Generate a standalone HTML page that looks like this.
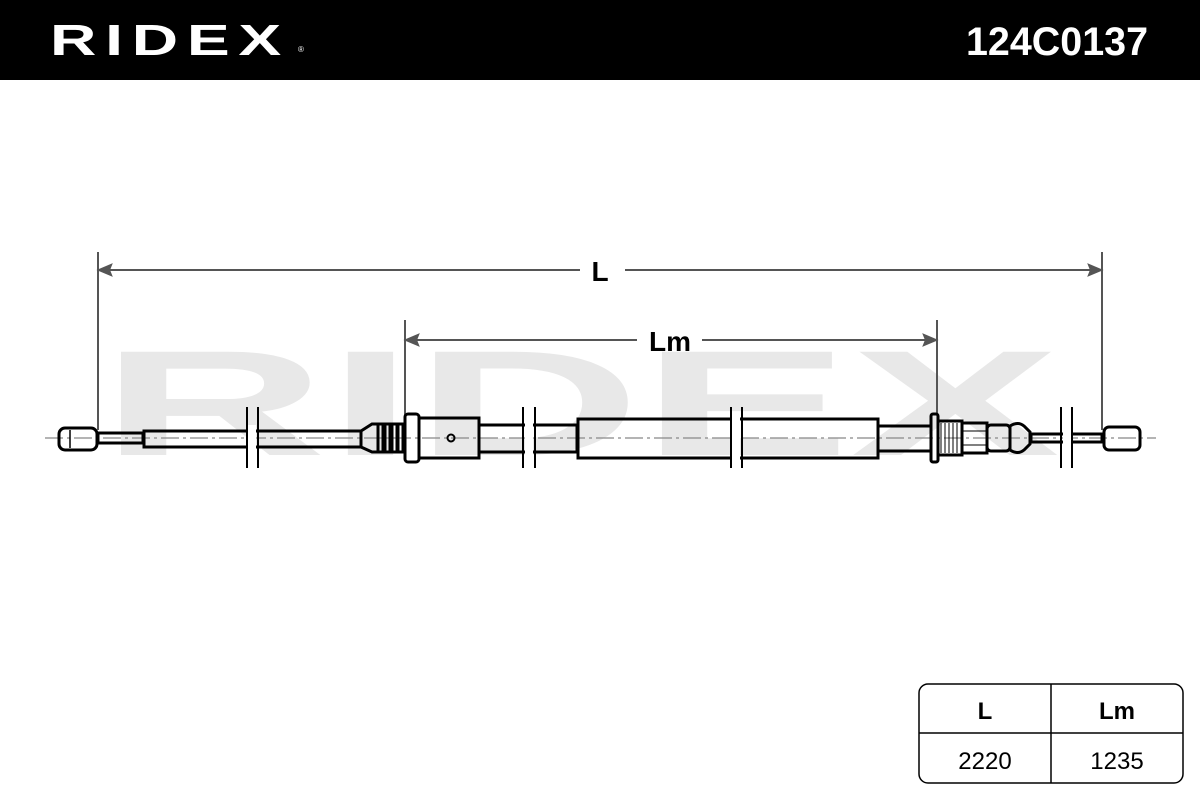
<!DOCTYPE html>
<html><head><meta charset="utf-8"><style>
html,body{margin:0;padding:0;background:#fff;width:1200px;height:800px;overflow:hidden}
svg{display:block}
text{font-family:"Liberation Sans",sans-serif}
</style></head><body>
<svg width="1200" height="800" viewBox="0 0 1200 800" xmlns="http://www.w3.org/2000/svg">
<rect x="0" y="0" width="1200" height="80" fill="#000"/>
<text x="50" y="55" font-size="44" font-weight="bold" fill="#fff" textLength="240" lengthAdjust="spacingAndGlyphs" letter-spacing="6">RIDEX</text>
<text x="298" y="52" font-size="8" fill="#fff">®</text>
<text x="1148" y="55" font-size="40" font-weight="bold" fill="#fff" text-anchor="end" textLength="182" lengthAdjust="spacingAndGlyphs">124C0137</text>

<!-- watermark -->
<text x="100" y="455" font-size="150" font-weight="bold" fill="#e8e8e8" textLength="960" lengthAdjust="spacingAndGlyphs">RIDEX</text>

<!-- center line -->
<line x1="45" y1="438" x2="1156" y2="438" stroke="#888" stroke-width="1.2" stroke-dasharray="18,4,3,4"/>

<!-- dimension lines -->
<g stroke="#555" stroke-width="2" fill="#555">
<line x1="98" y1="252" x2="98" y2="430"/>
<line x1="1102" y1="252" x2="1102" y2="430"/>
<line x1="98" y1="270" x2="580" y2="270"/>
<line x1="625" y1="270" x2="1102" y2="270"/>
<polygon points="99,270 111,265 109,270 111,275" />
<polygon points="1101,270 1089,265 1091,270 1089,275" />
<line x1="405" y1="320" x2="405" y2="415"/>
<line x1="937" y1="320" x2="937" y2="415"/>
<line x1="405" y1="340" x2="637" y2="340"/>
<line x1="702" y1="340" x2="937" y2="340"/>
<polygon points="406,340 418,335 416,340 418,345" />
<polygon points="936,340 924,335 926,340 924,345" />
</g>
<text x="600" y="281" font-size="28" font-weight="bold" text-anchor="middle">L</text>
<text x="670" y="351" font-size="28" font-weight="bold" text-anchor="middle">Lm</text>

<!-- cable -->
<g stroke="#000" stroke-width="3" fill="none">
<rect x="59" y="428" width="38" height="22" rx="6"/>
<line x1="70" y1="430" x2="70" y2="448" stroke-width="1.5"/>
<rect x="98" y="433" width="45" height="10"/>
<rect x="144" y="431" width="217" height="16"/>
<polygon points="361,431 372,424 378,424 378,452 372,452 361,447"/>
<rect x="378" y="424" width="5" height="28"/><rect x="385" y="424" width="5" height="28"/><rect x="392" y="424" width="5" height="28"/><rect x="398" y="424" width="5" height="28"/>
<rect x="405" y="414" width="14" height="48" rx="3"/>
<rect x="419" y="418" width="60" height="40"/>
<circle cx="451" cy="438" r="3.5" stroke-width="2"/>
<rect x="479" y="425" width="98" height="27"/>
<rect x="578" y="419" width="300" height="39"/>
<rect x="878" y="426" width="53" height="25"/>
<rect x="931" y="414" width="7" height="48" rx="2"/>
<rect x="938" y="421" width="24" height="34"/>
<rect x="962" y="423" width="25" height="30"/>
<rect x="987" y="425" width="23" height="26" rx="4"/>
<path d="M1010,426 q8,-5 14,0 l6,6 v12 l-6,6 q-6,5 -14,0 z"/>
<rect x="1031" y="434" width="71" height="8"/>
<rect x="1104" y="427" width="36" height="23" rx="5"/>
</g>
<g stroke="#000" stroke-width="1" fill="none">
<line x1="941" y1="423" x2="941" y2="453"/><line x1="945" y1="423" x2="945" y2="453"/><line x1="949" y1="423" x2="949" y2="453"/><line x1="953" y1="423" x2="953" y2="453"/><line x1="957" y1="423" x2="957" y2="453"/>
<line x1="962" y1="431" x2="987" y2="431"/><line x1="962" y1="445" x2="987" y2="445"/>
</g>
<!-- sleeve ticks -->
<g stroke="#fff" stroke-width="8">
<line x1="252" y1="425" x2="252" y2="452"/><line x1="529" y1="422" x2="529" y2="455"/><line x1="736" y1="416" x2="736" y2="461"/><line x1="1067" y1="430" x2="1067" y2="447"/>
</g>
<g stroke="#000" stroke-width="2">
<line x1="247" y1="407" x2="247" y2="468"/><line x1="258" y1="407" x2="258" y2="468"/>
<line x1="523" y1="407" x2="523" y2="468"/><line x1="535" y1="407" x2="535" y2="468"/>
<line x1="731" y1="407" x2="731" y2="468"/><line x1="742" y1="407" x2="742" y2="468"/>
<line x1="1061" y1="407" x2="1061" y2="468"/><line x1="1072" y1="407" x2="1072" y2="468"/>
</g>

<!-- table -->
<g stroke="#000" stroke-width="1.5" fill="none">
<rect x="919" y="684" width="264" height="99" rx="9"/>
<line x1="1051" y1="684" x2="1051" y2="783"/>
<line x1="919" y1="733" x2="1183" y2="733"/>
</g>
<text x="985" y="719" font-size="24" font-weight="bold" text-anchor="middle">L</text>
<text x="1117" y="719" font-size="24" font-weight="bold" text-anchor="middle">Lm</text>
<text x="985" y="769" font-size="24" text-anchor="middle">2220</text>
<text x="1117" y="769" font-size="24" text-anchor="middle">1235</text>
</svg>
</body></html>
